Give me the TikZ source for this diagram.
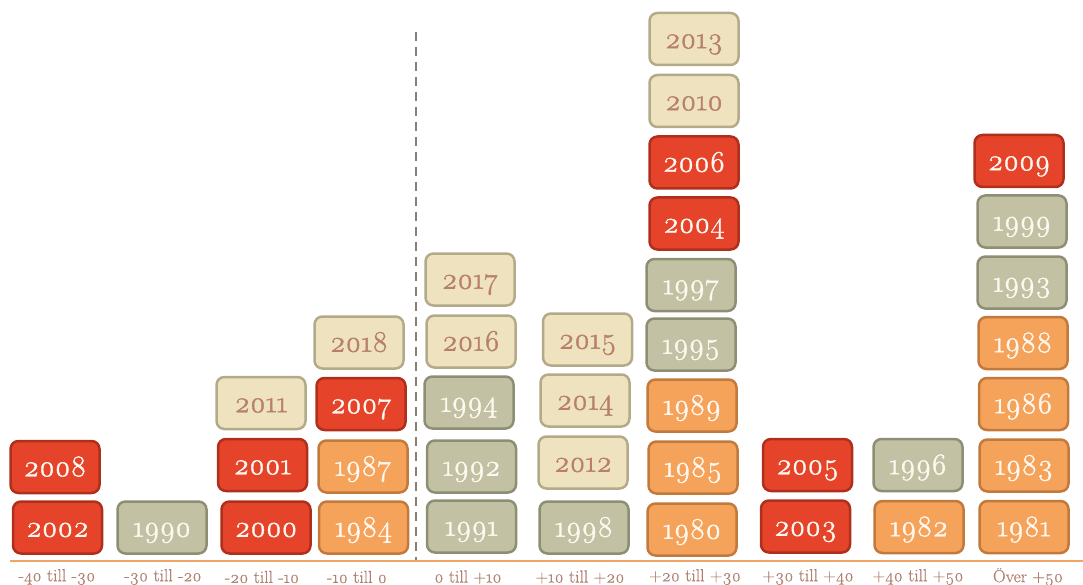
\documentclass[tikz,border=0pt]{standalone}
\usepackage{fontspec}
\setmainfont{Latin Modern Roman}[Numbers=OldStyle]
\newfontfamily\numfont{Latin Modern Roman}[Numbers=OldStyle, FakeBold=1.3]
\newfontfamily\lblfont{Latin Modern Roman}[Numbers=OldStyle, FakeBold=0.5]
\definecolor{redF}{HTML}{E5442A}
\definecolor{redB}{HTML}{AE2F1C}
\definecolor{orgF}{HTML}{F5A25A}
\definecolor{orgB}{HTML}{C27A3C}
\definecolor{gryF}{HTML}{C2C1A3}
\definecolor{gryB}{HTML}{8E8E75}
\definecolor{beiF}{HTML}{EFE3BF}
\definecolor{beiB}{HTML}{B3AA89}
\definecolor{beiT}{HTML}{B8806A}
\definecolor{txtW}{HTML}{FFF8F0}
\definecolor{axisC}{HTML}{F0A565}
\definecolor{lblC}{HTML}{B08070}
\definecolor{dashC}{HTML}{8A7F72}
\tikzset{
  yr/.style={draw, rounded corners=8pt, line width=2.5pt, minimum width=89pt, minimum height=52pt, inner sep=0pt, text height=18.5pt, text depth=0pt, font=\numfont\fontsize{30}{32}\selectfont},
  redbox/.style={yr, fill=redF, draw=redB, text=txtW},
  orgbox/.style={yr, fill=orgF, draw=orgB, text=txtW},
  grybox/.style={yr, fill=gryF, draw=gryB, text=txtW},
  beibox/.style={yr, fill=beiF, draw=beiB, text=beiT},
  lbl/.style={text=lblC, font=\lblfont\fontsize{17.5}{19}\selectfont, inner sep=0pt}
}
\begin{document}
\begin{tikzpicture}[x=1pt, y=-1pt]
\useasboundingbox (0,0) rectangle (1083,585);
% axis and divider
\coordinate (axL) at (10,561);
\coordinate (axR) at (1083,561);
\draw[axisC, line width=2pt] (axL) -- (axR);
\coordinate (dvT) at (416,32);
\coordinate (dvB) at (416,560);
\draw[dashC, line width=2pt, dash pattern=on 9pt off 6pt] (dvT) -- (dvB);
% column 1
\node[redbox] (n2008) at (55,467) {2008};
\node[redbox] (n2002) at (57.5,527.5) {2002};
% column 2
\node[grybox] (n1990) at (162,527.5) {1990};
% column 3
\node[beibox] (n2011) at (261,403) {2011};
\node[redbox] (n2001) at (262.5,465) {2001};
\node[redbox] (n2000) at (266,527.5) {2000};
% column 4
\node[beibox] (n2018) at (359,342.5) {2018};
\node[redbox] (n2007) at (361,404) {2007};
\node[orgbox] (n1987) at (363,466.5) {1987};
\node[orgbox] (n1984) at (363.5,527.5) {1984};
% column 5
\node[beibox] (n2017) at (470,279.5) {2017};
\node[beibox] (n2016) at (471,341.5) {2016};
\node[grybox] (n1994) at (469,402.5) {1994};
\node[grybox] (n1992) at (471.5,466.5) {1992};
\node[grybox] (n1991) at (471.5,526.5) {1991};
% column 6
\node[beibox] (n2015) at (587.5,339.5) {2015};
\node[beibox] (n2014) at (585,400.5) {2014};
\node[beibox] (n2012) at (583,462.5) {2012};
\node[grybox] (n1998) at (584,527.5) {1998};
% column 7
\node[beibox] (n2013) at (694,39) {2013};
\node[beibox] (n2010) at (694,101) {2010};
\node[redbox] (n2006) at (694,162.5) {2006};
\node[redbox] (n2004) at (694,223.5) {2004};
\node[grybox] (n1997) at (691,285) {1997};
\node[grybox] (n1995) at (691,344.5) {1995};
\node[orgbox] (n1989) at (692,405.5) {1989};
\node[orgbox] (n1985) at (693,467.5) {1985};
\node[orgbox] (n1980) at (692,529.5) {1980};
% column 8
\node[redbox] (n2005) at (807.5,465) {2005};
\node[redbox] (n2003) at (805.5,526.5) {2003};
% column 9
\node[grybox] (n1996) at (918,465) {1996};
\node[orgbox] (n1982) at (919,527) {1982};
% column 10
\node[redbox] (n2009) at (1019,161) {2009};
\node[grybox] (n1999) at (1022,221.5) {1999};
\node[grybox] (n1993) at (1022,282.5) {1993};
\node[orgbox] (n1988) at (1023,343) {1988};
\node[orgbox] (n1986) at (1023.5,404) {1986};
\node[orgbox] (n1983) at (1024,465.5) {1983};
\node[orgbox] (n1981) at (1024,527) {1981};
% labels
\node[lbl] (l1) at (57,577) {-40 till -30};
\node[lbl] (l2) at (163,577) {-30 till -20};
\node[lbl] (l3) at (262,577) {-20 till -10};
\node[lbl] (l4) at (357,577) {-10 till 0};
\node[lbl] (l5) at (468,577) {0 till +10};
\node[lbl] (l6) at (580,577) {+10 till +20};
\node[lbl] (l7) at (695,577) {+20 till +30};
\node[lbl] (l8) at (808,577) {+30 till +40};
\node[lbl] (l9) at (918,577) {+40 till +50};
\node[lbl] (l10) at (1028,577) {Över +50};
\end{tikzpicture}
\end{document}
